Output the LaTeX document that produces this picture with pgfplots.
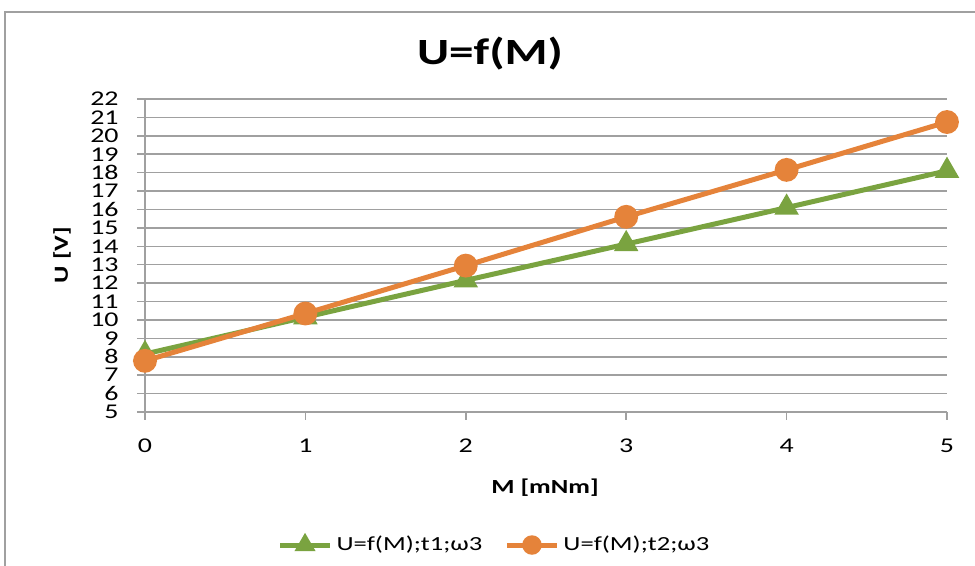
\documentclass[border=0pt]{standalone}
\usepackage{pgfplots}
\pgfplotsset{compat=1.18}
\usepackage{fontspec}
\setmainfont{Carlito}[FakeStretch=1.33]
\definecolor{mygreen}{RGB}{122,163,64}
\definecolor{myorange}{RGB}{229,131,58}
\definecolor{gridgray}{RGB}{160,160,160}
\begin{document}
\begin{tikzpicture}
\begin{axis}[
  name=ax,
  scale only axis,
  width=401pt, height=156.5pt,
  xmin=0, xmax=5, ymin=5, ymax=22,
  xtick={0,...,5}, ytick={5,...,22},
  ymajorgrids, major grid style={gridgray, line width=0.75pt},
  axis x line*=bottom, axis y line*=left,
  axis line style={gridgray, line width=0.75pt},
  tick style={gridgray, line width=0.75pt},
  tick align=outside,
  major tick length=4pt,
  x axis line style={-}, y axis line style={-},
  /pgf/number format/assume math mode=true,
  tick label style={font=\fontsize{10.5}{12}\selectfont},
  yticklabel style={anchor=east, inner sep=0pt, xshift=-9pt},
  xticklabel style={anchor=center, inner sep=0pt, yshift=-13pt},
  clip=false,
  legend columns=2,
  legend style={at={(0.437,-0.425)}, anchor=center, draw=none, fill=none,
    font=\fontsize{10}{12}\selectfont, /tikz/every even column/.append style={column sep=9pt}},
  legend image code/.code={
    \draw[#1, mark=none] (0cm,0cm) -- (25pt,0cm);
    \draw[#1, draw=none, mark size=3.6pt] plot coordinates {(12.5pt,0cm)};
  },
]
\addplot[mygreen, line width=2.5pt, mark=triangle*, mark size=4.6pt, mark options={solid}] coordinates {
  (0,8.15) (1,10.15) (2,12.15) (3,14.12) (4,16.1) (5,18.1)
};
\addlegendentry{U=f(M);t1;ω3}
\addplot[myorange, line width=2.5pt, mark=*, mark size=4.7pt] coordinates {
  (0,7.78) (1,10.35) (2,12.95) (3,15.6) (4,18.15) (5,20.75)
};
\addlegendentry{U=f(M);t2;ω3}
\end{axis}
\begin{scope}[shift={(ax.south west)}]
  \node[font=\bfseries\fontsize{18.5}{22}\selectfont] at (172.5pt,179pt) {U=f(M)};
  \node[font=\bfseries\fontsize{10}{12}\selectfont] at (200pt,-38pt) {M [mNm]};
  \node[font=\bfseries\fontsize{10}{12}\selectfont, rotate=90] at (-41.5pt,78.5pt) {U [V]};
  \draw[gridgray, line width=0.75pt] (-70pt,-77pt) -- (-70pt,200pt) -- (415pt,200pt);
  \pgfresetboundingbox
  \path (-72.5pt,-77pt) rectangle (415pt,206pt);
\end{scope}
\end{tikzpicture}
\end{document}
